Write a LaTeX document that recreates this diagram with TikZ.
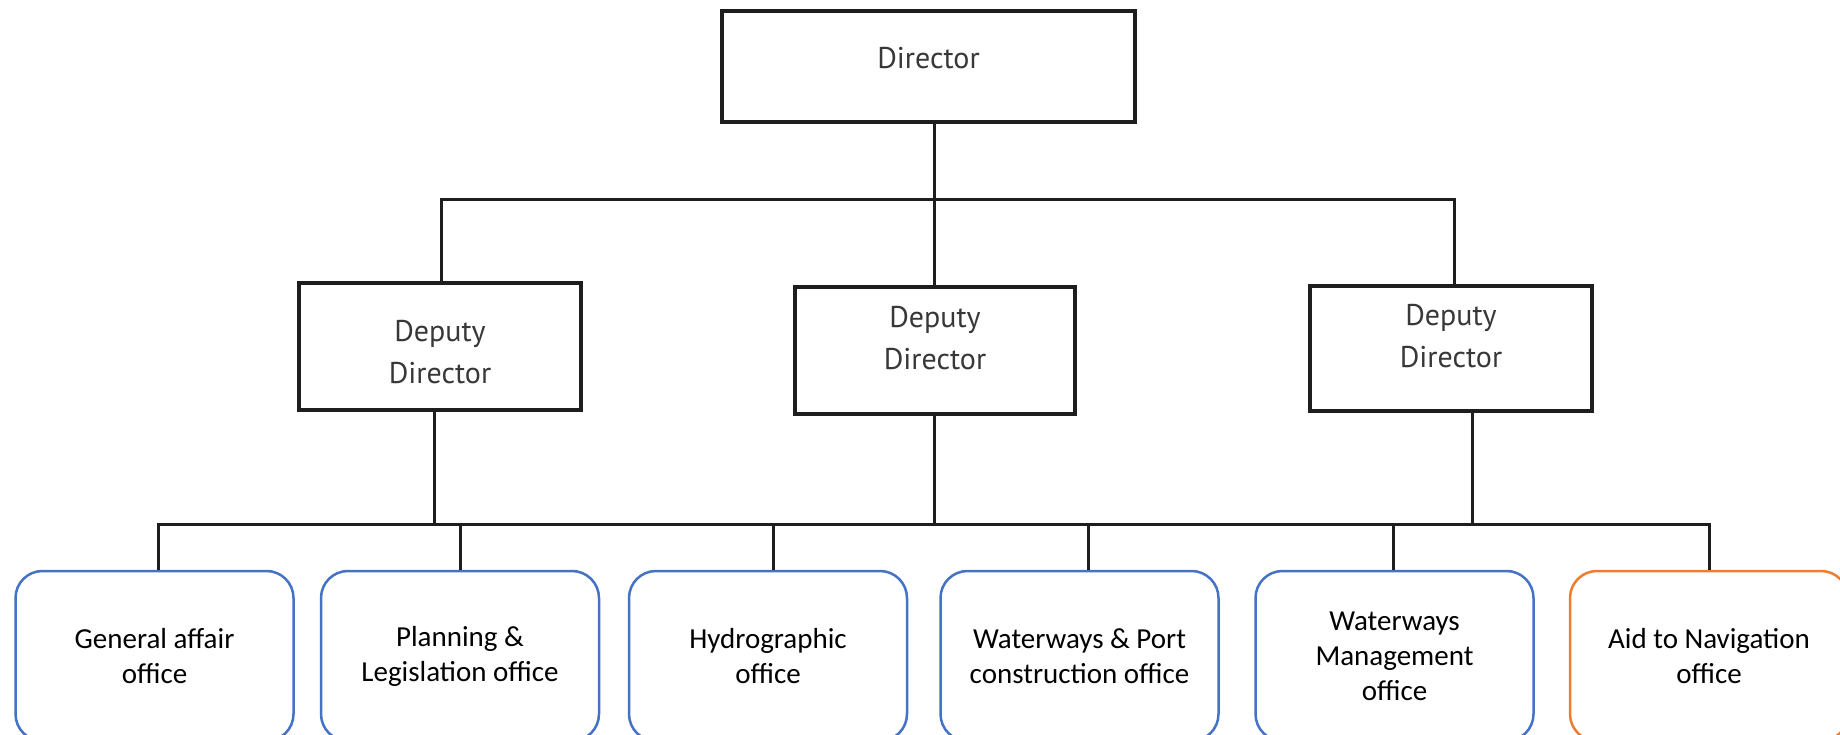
\documentclass[tikz,border=0pt]{standalone}
\usepackage{fontspec}
\newfontfamily\calfont{Carlito}
\newfontfamily\depfont{PT Sans}
\definecolor{lineblk}{HTML}{1E1E1E}
\definecolor{boxblue}{HTML}{4472C4}
\definecolor{boxorange}{HTML}{ED7D31}
\definecolor{deptxt}{HTML}{383838}
\begin{document}
\begin{tikzpicture}[x=1pt,y=-1pt,
  conn/.style={draw=lineblk, line width=3pt},
  topbox/.style={draw=lineblk, line width=3.5pt, rectangle, inner sep=0pt, fill=white},
  toptext/.style={font=\depfont\fontsize{30}{42}\selectfont, text=deptxt, align=center, inner sep=0pt},
  office/.style={rectangle, rounded corners=27pt, line width=2.5pt, minimum width=278pt, minimum height=170pt,
    font=\calfont\fontsize{29}{35}\selectfont, align=center, fill=white, inner sep=0pt},
  blueoffice/.style={office, draw=boxblue},
  orangeoffice/.style={office, draw=boxorange}]
\useasboundingbox (0,0) rectangle (1840,735);
\clip (0,0) rectangle (1840,735);

% boxes
\node[topbox, minimum width=413pt, minimum height=111pt] (dir) at (928.5,66.5) {};
\node[toptext] (dirt) at (928.5,58) {Director};

\node[topbox, minimum width=282pt, minimum height=127pt] (dep1) at (440,346.5) {};
\node[toptext] (dep1t) at (440,352) {Deputy\\Director};
\node[topbox, minimum width=280pt, minimum height=127pt] (dep2) at (935,350.5) {};
\node[toptext] (dep2t) at (935,338) {Deputy\\Director};
\node[topbox, minimum width=282pt, minimum height=125pt] (dep3) at (1451,348.5) {};
\node[toptext] (dep3t) at (1451,336.5) {Deputy\\Director};

\node[blueoffice] (o1) at (154.5,656) {General affair\\office};
\node[blueoffice] (o2) at (460,656) {Planning \&\\Legislation office};
\node[blueoffice] (o3) at (768,656) {Hydrographic\\office};
\node[blueoffice] (o4) at (1079.5,656) {Waterways \& Port\\construction office};
\node[blueoffice] (o5) at (1394.5,656) {Waterways\\Management\\office};
\node[orangeoffice] (o6) at (1709,656) {Aid to Navigation\\office};

% upper level connectors
\coordinate (ubL) at (441,200);
\coordinate (ubM) at (934,200);
\coordinate (ubR) at (1454,200);
\draw[conn] (ubL |- dep1.north) -- (ubL) -- (ubR) -- (ubR |- dep3.north);
\draw[conn] (dir.south -| ubM) -- (ubM |- dep2.north);

% lower level connectors
\coordinate (u1) at (434,524);
\coordinate (u2) at (934,524);
\coordinate (u3) at (1472,524);
\draw[conn] (u1 |- dep1.south) -- (u1);
\draw[conn] (u2 |- dep2.south) -- (u2);
\draw[conn] (u3 |- dep3.south) -- (u3);

\coordinate (d1) at (158,524);
\coordinate (d2) at (460,524);
\coordinate (d3) at (773,524);
\coordinate (d4) at (1088,524);
\coordinate (d5) at (1393,524);
\coordinate (d6) at (1709,524);
\draw[conn] (d1 |- o1.north) -- (d1) -- (d6) -- (d6 |- o6.north);
\draw[conn] (d2) -- (d2 |- o2.north);
\draw[conn] (d3) -- (d3 |- o3.north);
\draw[conn] (d4) -- (d4 |- o4.north);
\draw[conn] (d5) -- (d5 |- o5.north);
\end{tikzpicture}
\end{document}
